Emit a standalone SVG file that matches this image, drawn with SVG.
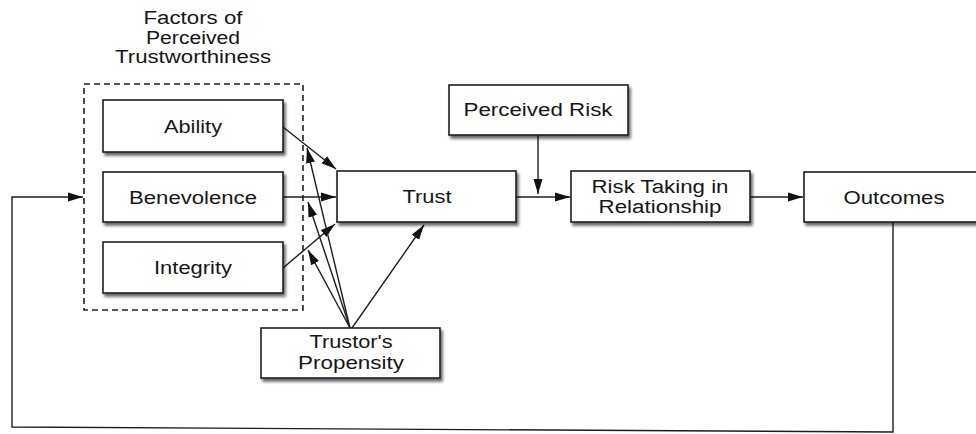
<svg xmlns="http://www.w3.org/2000/svg" width="976" height="434" viewBox="0 0 976 434">
<style>
.box{fill:#ffffff;stroke:#1e1e1e;stroke-width:1.6;filter:url(#sh)}
.t{font-family:"Liberation Sans",Arial,sans-serif;font-size:18px;fill:#161616;text-anchor:middle}
.c{fill:none;stroke:#1e1e1e;stroke-width:1.4}
.a{marker-end:url(#ah)}
</style>
<defs>
<filter id="sh" x="-10%" y="-20%" width="130%" height="150%">
<feGaussianBlur in="SourceAlpha" stdDeviation="1.4"/>
<feOffset dx="2" dy="3" result="b"/>
<feComponentTransfer><feFuncA type="linear" slope="0.6"/></feComponentTransfer>
<feMerge><feMergeNode/><feMergeNode in="SourceGraphic"/></feMerge>
</filter>
<marker id="ah" markerUnits="userSpaceOnUse" markerWidth="16" markerHeight="12" refX="15" refY="6" orient="auto">
<path d="M0,1.5 L15,6 L0,10.5 Z" fill="#111"/>
</marker>
</defs>
<rect width="976" height="434" fill="#ffffff"/>

<g id="group-trustworthiness">
<rect x="84" y="84" width="219" height="226" fill="none" stroke="#222" stroke-width="1.6" stroke-dasharray="6,4"/>
<text class="t" x="193" y="24" textLength="99" lengthAdjust="spacingAndGlyphs">Factors of</text>
<text class="t" x="193" y="44" textLength="94" lengthAdjust="spacingAndGlyphs">Perceived</text>
<text class="t" x="193" y="63" textLength="156" lengthAdjust="spacingAndGlyphs">Trustworthiness</text>
</g>

<g id="connectors">
<line class="c a" x1="283" y1="127" x2="336" y2="169"/>
<line class="c a" x1="283" y1="197" x2="336" y2="197"/>
<line class="c a" x1="283" y1="268" x2="335" y2="224"/>
<line class="c a" x1="350" y1="328" x2="307" y2="148"/>
<line class="c a" x1="350" y1="328" x2="308" y2="202"/>
<line class="c a" x1="350" y1="328" x2="308" y2="250"/>
<line class="c a" x1="352" y1="328" x2="424" y2="225"/>
<line class="c a" x1="516" y1="197" x2="570" y2="197"/>
<line class="c a" x1="538" y1="135" x2="538" y2="194"/>
<line class="c a" x1="750" y1="197" x2="803" y2="197"/>
<polyline class="c a" points="893,222 893,432 12,427 12,197 83,197"/>
</g>

<g id="ability">
<rect class="box" x="103" y="100" width="180" height="52"/>
<text class="t" x="193" y="133" textLength="58" lengthAdjust="spacingAndGlyphs">Ability</text>
</g>
<g id="benevolence">
<rect class="box" x="103" y="172" width="180" height="50"/>
<text class="t" x="193" y="204" textLength="128" lengthAdjust="spacingAndGlyphs">Benevolence</text>
</g>
<g id="integrity">
<rect class="box" x="103" y="242" width="180" height="51"/>
<text class="t" x="193" y="274" textLength="78" lengthAdjust="spacingAndGlyphs">Integrity</text>
</g>
<g id="trust">
<rect class="box" x="337" y="171" width="179" height="51"/>
<text class="t" x="427" y="203" textLength="49" lengthAdjust="spacingAndGlyphs">Trust</text>
</g>
<g id="perceived-risk">
<rect class="box" x="449" y="85" width="179" height="50"/>
<text class="t" x="538" y="116" textLength="149" lengthAdjust="spacingAndGlyphs">Perceived Risk</text>
</g>
<g id="risk-taking">
<rect class="box" x="571" y="171" width="179" height="51"/>
<text class="t" x="660" y="193" textLength="137" lengthAdjust="spacingAndGlyphs">Risk Taking in</text>
<text class="t" x="660" y="213" textLength="123" lengthAdjust="spacingAndGlyphs">Relationship</text>
</g>
<g id="outcomes">
<rect class="box" x="804" y="172" width="180" height="50"/>
<text class="t" x="894" y="204" textLength="101" lengthAdjust="spacingAndGlyphs">Outcomes</text>
</g>
<g id="trustors-propensity">
<rect class="box" x="261" y="328" width="179" height="50"/>
<text class="t" x="351" y="348" textLength="83" lengthAdjust="spacingAndGlyphs">Trustor's</text>
<text class="t" x="351" y="369" textLength="106" lengthAdjust="spacingAndGlyphs">Propensity</text>
</g>
</svg>
